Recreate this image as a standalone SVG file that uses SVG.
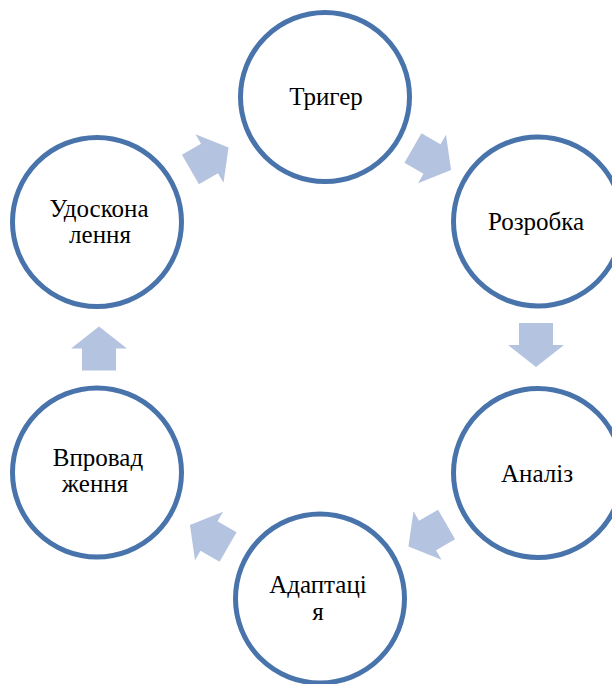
<svg xmlns="http://www.w3.org/2000/svg" width="612" height="684" viewBox="0 0 612 684">
<style>
.node{fill:#FFFFFF;stroke:#4874AB;stroke-width:5}
.lbl{font-family:'Liberation Serif','Times New Roman','DejaVu Serif',serif;font-size:25px;fill:#000000;text-anchor:middle}
.arr{fill:#B4C3DF}
</style>
<defs>
<path id="arrow" d="M-22,-17 L0,-17 L0,-28 L22,0 L0,28 L0,17 L-22,17 Z"/>
</defs>
<rect width="612" height="684" fill="#FFFFFF"/>
<g id="connectors">
<use href="#arrow" class="arr" transform="translate(209.5,158.5) rotate(-30)"/>
<use href="#arrow" class="arr" transform="translate(432,159) rotate(30)"/>
<use href="#arrow" class="arr" transform="translate(536,345) rotate(90)"/>
<use href="#arrow" class="arr" transform="translate(427.5,535.5) rotate(150)"/>
<use href="#arrow" class="arr" transform="translate(209,536) rotate(210)"/>
<use href="#arrow" class="arr" transform="translate(99,348.5) rotate(-90)"/>
</g>
<g id="node-tryger">
<circle class="node" cx="325" cy="97" r="84.5"/>
<text class="lbl" font-family="Liberation Serif, serif" x="326" y="105">Тригер</text>
</g>
<g id="node-rozrobka">
<circle class="node" cx="538" cy="221.5" r="84.5"/>
<text class="lbl" font-family="Liberation Serif, serif" x="536" y="230">Розробка</text>
</g>
<g id="node-analiz">
<circle class="node" cx="538" cy="473" r="84.5"/>
<text class="lbl" font-family="Liberation Serif, serif" x="537" y="482">Аналіз</text>
</g>
<g id="node-adaptatsiya">
<circle class="node" cx="320" cy="598.5" r="84.5"/>
<text class="lbl" font-family="Liberation Serif, serif" x="318" y="593">Адаптаці</text>
<text class="lbl" font-family="Liberation Serif, serif" x="318" y="620">я</text>
</g>
<g id="node-vprovadzhennya">
<circle class="node" cx="97" cy="472.5" r="84.5"/>
<text class="lbl" font-family="Liberation Serif, serif" x="98" y="466">Впровад</text>
<text class="lbl" font-family="Liberation Serif, serif" x="95" y="492">ження</text>
</g>
<g id="node-udoskonalennya">
<circle class="node" cx="97" cy="222" r="84.5"/>
<text class="lbl" font-family="Liberation Serif, serif" x="99" y="217">Удоскона</text>
<text class="lbl" font-family="Liberation Serif, serif" x="100" y="243">лення</text>
</g>
</svg>
